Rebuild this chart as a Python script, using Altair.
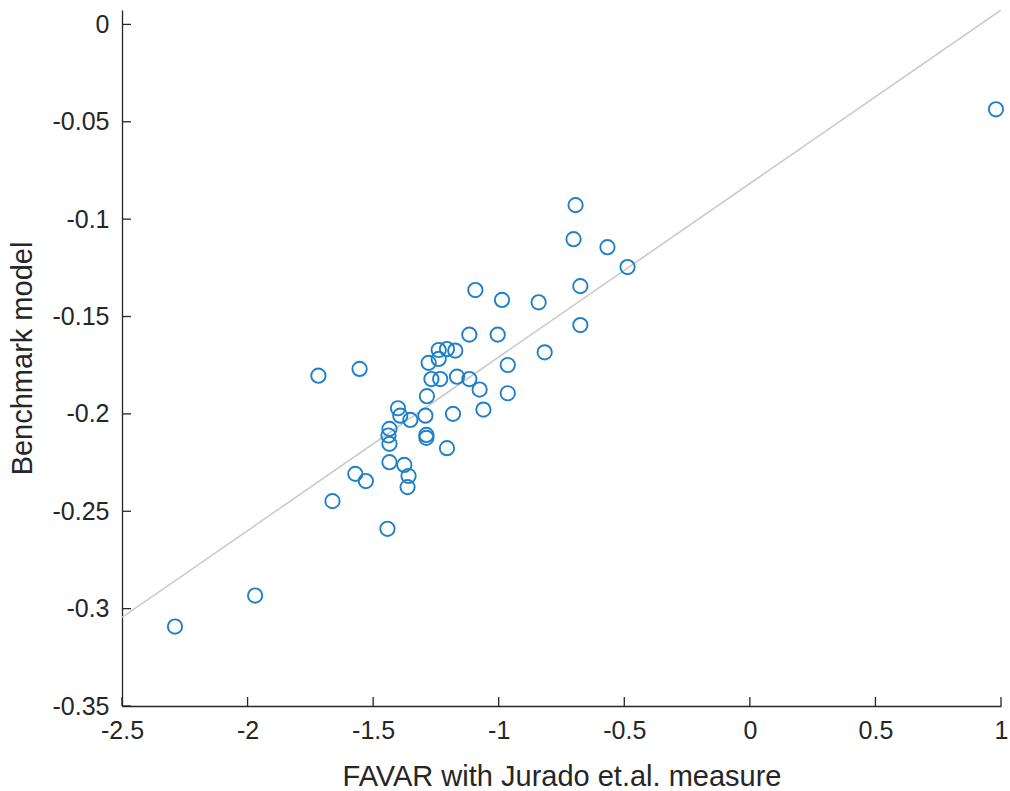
import altair as alt
import pandas as pd

# Scatter values
x_vals = [0.98, -0.694, -0.702, -0.567, -0.487, -0.675, -1.093, -0.987, -0.841, -0.675,
          -1.117, -1.004, -0.817, -1.239, -1.206, -1.173, -1.279, -1.239, -0.964, -1.718,
          -1.554, -1.268, -1.233, -1.166, -1.117, -1.076, -0.964, -1.286, -1.401, -1.392,
          -1.352, -1.292, -1.182, -1.061, -1.288, -1.288, -1.435, -1.439, -1.435, -1.206,
          -1.435, -1.376, -1.359, -1.363, -1.571, -1.529, -1.662, -1.443, -1.970, -2.289]
y_vals = [-0.0436, -0.0928, -0.1103, -0.1144, -0.1246, -0.1344, -0.1364, -0.1415, -0.1427, -0.1544,
          -0.1593, -0.1593, -0.1684, -0.1672, -0.1667, -0.1675, -0.1738, -0.1718, -0.1749, -0.1804,
          -0.1769, -0.1821, -0.1821, -0.1809, -0.1821, -0.1875, -0.1894, -0.1909, -0.1971, -0.2009,
          -0.2031, -0.2009, -0.2000, -0.1978, -0.2108, -0.2123, -0.2077, -0.2111, -0.2154, -0.2176,
          -0.2248, -0.2262, -0.2319, -0.2376, -0.2308, -0.2345, -0.2448, -0.2590, -0.2933, -0.3092]

# Fitted line end points
fit_x = [-2.5, 1.0]
fit_y = [-0.3045, 0.0074]

x_ticks = [-2.5, -2, -1.5, -1, -0.5, 0, 0.5, 1]
y_ticks = [-0.35, -0.3, -0.25, -0.2, -0.15, -0.1, -0.05, 0]

W, H = 879, 696
AX = "#262626"
FONT = "Liberation Sans"

xs = alt.Scale(domain=[-2.5, 1.0], nice=False, zero=False)
ys = alt.Scale(domain=[-0.35, 0.0074], nice=False, zero=False)

pts = pd.DataFrame({"x": x_vals, "y": y_vals})
fit = pd.DataFrame({"x": fit_x, "y": fit_y})
xt = pd.DataFrame({"x": x_ticks})
yt = pd.DataFrame({"y": y_ticks})

common = dict(domainColor=AX, domainWidth=1.3, ticks=False, grid=False,
              labelColor=AX, labelFont=FONT, labelFontSize=25,
              labelFlush=False, labelOverlap=False,
              titleFont=FONT, titleFontSize=29, titleFontWeight="normal", titleColor=AX)

x_axis = alt.Axis(values=x_ticks, labelExpr="toString(datum.value)",
                  title="FAVAR with Jurado et.al. measure", labelPadding=12,
                  titleY=70, titleBaseline="middle", **common)
y_axis = alt.Axis(values=y_ticks, labelExpr="toString(datum.value)",
                  title="Benchmark model", labelPadding=13,
                  titleX=-100, titleBaseline="middle", **common)

fit_line = alt.Chart(fit).mark_line(color="#c8c8c8", strokeWidth=1.5, clip=True).encode(
    x=alt.X("x:Q", scale=xs, axis=x_axis),
    y=alt.Y("y:Q", scale=ys, axis=y_axis),
)

points = alt.Chart(pts).mark_point(shape="circle", filled=False, size=205,
                                   strokeWidth=1.9, color="#1f80c8", opacity=1).encode(
    x=alt.X("x:Q", scale=xs),
    y=alt.Y("y:Q", scale=ys),
)

xtick_layer = alt.Chart(xt).mark_rule(color=AX, strokeWidth=1.3).encode(
    x=alt.X("x:Q", scale=xs),
    y=alt.value(H),
    y2=alt.value(H - 9),
)

ytick_layer = alt.Chart(yt).mark_rule(color=AX, strokeWidth=1.3).encode(
    y=alt.Y("y:Q", scale=ys),
    x=alt.value(0),
    x2=alt.value(9),
)

chart = alt.layer(fit_line, points, xtick_layer, ytick_layer).properties(
    width=W, height=H,
    autosize=alt.AutoSizeParams(type="none"),
    padding={"left": 122, "top": 10, "right": 9, "bottom": 85},
    background="white",
).configure_view(stroke=None)

chart.save("out.html", embed_options={"renderer": "svg", "actions": False})
